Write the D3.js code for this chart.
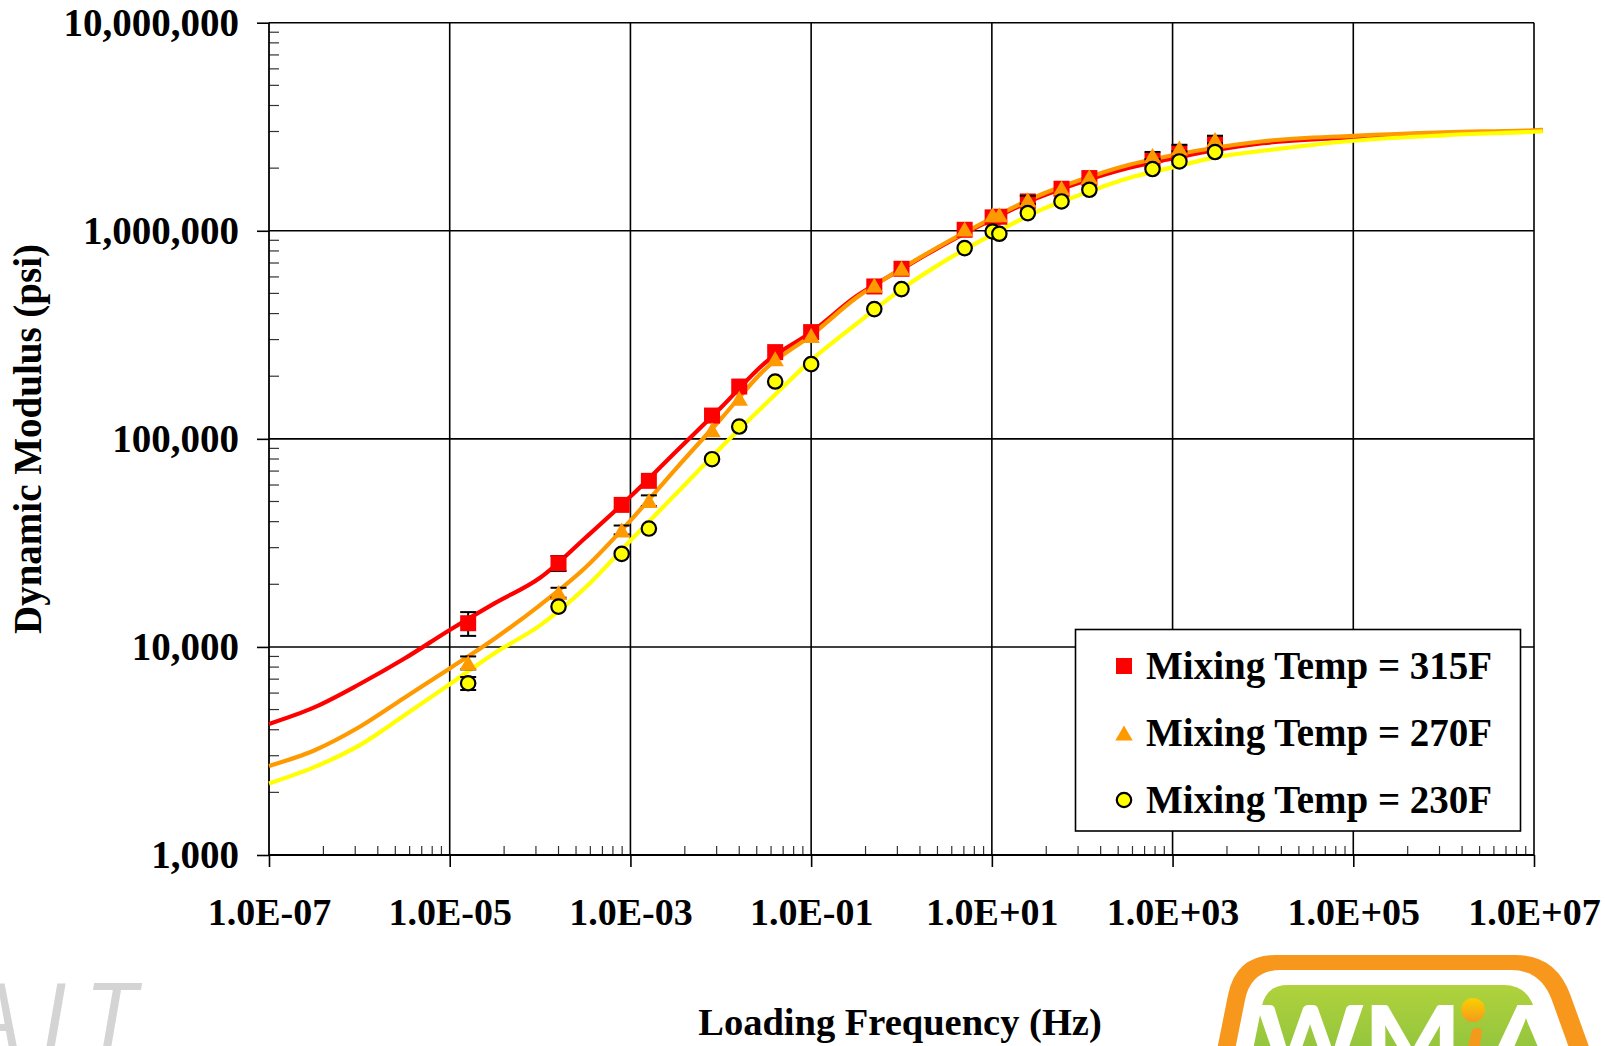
<!DOCTYPE html>
<html><head><meta charset="utf-8">
<script src="https://cdn.jsdelivr.net/npm/d3@7"></script>
<style>
html,body{margin:0;padding:0;background:#fff;overflow:hidden;}
svg{display:block;}
</style></head><body>
<svg id="chart" width="1605" height="1046"></svg>
<script>
// ---------- data ----------
const xTickValues = [1e-7, 1e-5, 1e-3, 1e-1, 1e1, 1e3, 1e5, 1e7];
const xTickLabels = ["1.0E-07","1.0E-05","1.0E-03","1.0E-01","1.0E+01","1.0E+03","1.0E+05","1.0E+07"];
const yTickValues = [1e3, 1e4, 1e5, 1e6, 1e7];
const yTickLabels = ["1,000","10,000","100,000","1,000,000","10,000,000"];

const seriesNames = ["Mixing Temp = 315F","Mixing Temp = 270F","Mixing Temp = 230F"];

// measured points (reduced frequency, Hz)
const testFreq = [1.6e-5,1.6e-4,8.0e-4,1.6e-3,8.0e-3,1.6e-2,4.0e-2,0.1,0.5,1.0,5.0,10.2,12.1,25,59,120,600,1190,2950];
const mod315 = [13000,25260,48160,62840,129400,178400,261100,325800,540000,656700,1011000,1160000,1168000,1383000,1592000,1792000,2178000,2371000,2620000];
const mod270 = [8400,18240,36520,50500,110500,156900,242400,313800,548000,660000,1019000,1194000,1194000,1409000,1604000,1818000,2301000,2498000,2748000];
const mod230 = [6690,15620,28000,37050,79850,114600,188600,228600,420400,524400,825500,992000,967400,1216000,1383000,1574000,1980000,2154000,2390000];
const err315 = [1700,2100,0,0,0,0,0,0,0,0,0,0,0,0,0,0,0,0,0];
const err270 = [600,1000,1800,3000,0,0,0,0,0,0,0,0,0,64000,0,0,91000,92000,115000];
const err230 = [480,0,0,0,0,0,0,0,0,0,0,0,0,0,0,0,0,0,0];

// fitted master curves
const curveFreq = [1e-7,3.16e-7,1e-6,3.16e-6,1e-5,3.16e-5,1e-4,3.16e-4,1e-3,3.16e-3,1e-2,3.16e-2,0.1,0.316,1,3.16,10,31.6,100,316,1000,3160,1e4,1e5,1e6,1e7,1.25e7];
const fit315 = [4264,5119,6617,8796,12060,16230,21490,33390,52800,86500,141000,233800,325100,484300,653800,872900,1132000,1435000,1722000,2000000,2224000,2452000,2634000,2814000,2942000,3025000,3040000];
const fit270 = [2679,3180,4120,5700,7883,10980,15890,24010,40480,71580,124600,218000,314500,476300,658100,880600,1148000,1465000,1768000,2065000,2307000,2520000,2694000,2861000,2975000,3042000,3055000];
const fit230 = [2207,2643,3365,4695,6617,9359,12690,19240,32440,54170,90620,147700,238500,356400,523800,724600,957000,1237000,1500000,1784000,2017000,2266000,2424000,2709000,2877000,2992000,3005000];

const colors = ["#ff0000","#ff9900","#ffff00"];

// ---------- layout ----------
const svg = d3.select("#chart");
const X0 = 269, X1 = 1534, Y0 = 855, Y1 = 22.7;
const x = d3.scaleLog().domain([1e-7, 1e7]).range([X0, X1]);
const y = d3.scaleLog().domain([1e3, 1e7]).range([Y0, Y1]);
const FONT = "'Liberation Serif','Times New Roman',serif";

svg.append("rect").attr("width",1605).attr("height",1046).attr("fill","#fff");

// gridlines
const grid = svg.append("g").attr("stroke","#000").attr("stroke-width",1.6);
yTickValues.slice(1).forEach(v => grid.append("line")
  .attr("x1",X0).attr("x2",X1).attr("y1",y(v)).attr("y2",y(v)));
xTickValues.slice(1).forEach(v => grid.append("line")
  .attr("x1",x(v)).attr("x2",x(v)).attr("y1",Y1).attr("y2",Y0));

// minor ticks
const minor = svg.append("g").attr("stroke","#333").attr("stroke-width",1.2);
[1e3,1e4,1e5,1e6].forEach(d => { for (let k=2;k<=9;k++) {
  minor.append("line").attr("x1",X0).attr("x2",X0+10).attr("y1",y(d*k)).attr("y2",y(d*k));
}});
xTickValues.slice(0,-1).forEach(d => { for (let k=2;k<=9;k++) {
  const v = d*k*k;
  minor.append("line").attr("x1",x(v)).attr("x2",x(v)).attr("y1",Y0).attr("y2",Y0-9);
}});

// axes
const yAxis = d3.axisLeft(y).tickValues(yTickValues)
  .tickFormat((d,i)=>yTickLabels[i]).tickSize(12).tickPadding(18);
const gy = svg.append("g").attr("transform",`translate(${X0},0)`).call(yAxis);
const xAxis = d3.axisBottom(x).tickValues(xTickValues)
  .tickFormat((d,i)=>xTickLabels[i]).tickSize(12).tickPadding(31);
const gx = svg.append("g").attr("transform",`translate(0,${Y0})`).call(xAxis);
[gx, gy].forEach(g => {
  g.select(".domain").remove();
  g.selectAll(".tick line").attr("stroke","#000").attr("stroke-width",1.6);
  g.selectAll("text").attr("font-family",FONT).attr("font-weight","bold")
    .attr("font-size",38).attr("fill","#000");
});
gy.selectAll("text").attr("font-size",39);
svg.append("line").attr("x1",X0).attr("x2",X0).attr("y1",Y1).attr("y2",Y0)
  .attr("stroke","#000").attr("stroke-width",1.8);
svg.append("line").attr("x1",X0).attr("x2",X1).attr("y1",Y0).attr("y2",Y0)
  .attr("stroke","#000").attr("stroke-width",1.8);

// axis titles
svg.append("text").attr("x",900).attr("y",1035).attr("text-anchor","middle")
  .attr("font-family",FONT).attr("font-weight","bold").attr("font-size",38.5)
  .text("Loading Frequency (Hz)");
svg.append("text").attr("transform","translate(41,439) rotate(-90)").attr("text-anchor","middle")
  .attr("font-family",FONT).attr("font-weight","bold").attr("font-size",39)
  .text("Dynamic Modulus (psi)");

// curves
const fits = [fit315, fit270, fit230];
const line = d3.line().x(d=>x(d[0])).y(d=>y(d[1])).curve(d3.curveMonotoneX);
fits.forEach((f,i) => {
  svg.append("path").datum(curveFreq.map((c,j)=>[c,f[j]]))
    .attr("d",line).attr("fill","none").attr("stroke",colors[i])
    .attr("stroke-width",4.2).attr("stroke-linejoin","round");
});

// markers
const mods = [mod315, mod270, mod230];
const errs = [err315, err270, err230];
function drawMarker(g, type, cx, cy) {
  if (type===0) g.append("rect").attr("x",cx-8).attr("y",cy-8).attr("width",16).attr("height",16).attr("fill",colors[0]);
  else if (type===1) g.append("path").attr("d",`M${cx},${cy-7.5}L${cx+8.7},${cy+7.5}L${cx-8.7},${cy+7.5}Z`).attr("fill",colors[1]);
  else g.append("circle").attr("cx",cx).attr("cy",cy).attr("r",7.2).attr("fill",colors[2]).attr("stroke","#000").attr("stroke-width",2.2);
}
mods.forEach((m,i) => {
  const g = svg.append("g");
  testFreq.forEach((f,j) => {
    const e = errs[i][j];
    if (e>0) {
      const cx = x(f), ya = y(m[j]+e), yb = y(m[j]-e);
      g.append("line").attr("x1",cx).attr("x2",cx).attr("y1",ya).attr("y2",yb).attr("stroke","#000").attr("stroke-width",2);
      [ya,yb].forEach(yy => g.append("line").attr("x1",cx-8).attr("x2",cx+8).attr("y1",yy).attr("y2",yy).attr("stroke","#000").attr("stroke-width",2));
    }
  });
  testFreq.forEach((f,j) => drawMarker(g, i, x(f), y(m[j])));
});

// legend
const lg = svg.append("g");
lg.append("rect").attr("x",1075.5).attr("y",629.5).attr("width",445).attr("height",201.5)
  .attr("fill","#fff").attr("stroke","#000").attr("stroke-width",1.6);
seriesNames.forEach((n,i) => {
  const cy = 666 + i*67;
  drawMarker(lg, i, 1124, cy);
  lg.append("text").attr("x",1146).attr("y",cy+12.5).attr("font-family",FONT)
    .attr("font-weight","bold").attr("font-size",39).text(n);
});

// watermark text (bottom left)
svg.append("text").attr("x",-34).attr("y",1048).attr("font-family","Roboto, 'Open Sans', sans-serif")
  .attr("font-style","italic").attr("font-weight",400).attr("font-size",90)
  .attr("letter-spacing",20).attr("fill","#d4d4d4").text("AIT");

// logo (bottom right)
const logo = svg.append("g");
function trap(d, r) {
  const top = 955 + d, bot = 1080;
  const tl = 1236 + d, tr = 1556 - d;
  const sl = -0.2, sr = 0.36;
  const blx = tl + sl*(bot-top), brx = tr + sr*(bot-top);
  return `M${blx},${bot}L${tl+sl*r},${top+r}Q${tl},${top} ${tl+r},${top}` +
         `L${tr-r},${top}Q${tr},${top} ${tr+sr*r},${top+r}L${brx},${bot}Z`;
}
const defs = svg.append("defs");
const gg = defs.append("linearGradient").attr("id","grn").attr("x1",0).attr("y1",0).attr("x2",0).attr("y2",1);
gg.append("stop").attr("offset","0").attr("stop-color","#b0d23c");
gg.append("stop").attr("offset","1").attr("stop-color","#86bf3e");
const og = defs.append("linearGradient").attr("id","dot").attr("x1",0).attr("y1",0).attr("x2",0).attr("y2",1);
og.append("stop").attr("offset","0").attr("stop-color","#f9d000");
og.append("stop").attr("offset","1").attr("stop-color","#f39a1c");
logo.append("path").attr("d",trap(0,40)).attr("fill","#f7981d");
logo.append("path").attr("d",trap(15,30)).attr("fill","#fff");
logo.append("path").attr("d",trap(30,22)).attr("fill","url(#grn)");
logo.append("text").attr("x",1256).attr("y",1072).attr("font-family","Lato, 'Open Sans', sans-serif")
  .attr("font-weight",900).attr("font-size",92).attr("fill","#fff")
  .attr("textLength",205).attr("lengthAdjust","spacingAndGlyphs").text("WM");
logo.append("text").attr("x",1487).attr("y",1072).attr("font-family","Lato, 'Open Sans', sans-serif")
  .attr("font-weight",900).attr("font-size",92).attr("fill","#fff")
  .attr("textLength",78).attr("lengthAdjust","spacingAndGlyphs").text("A");
logo.append("circle").attr("cx",1473).attr("cy",1010).attr("r",12).attr("fill","url(#dot)");
logo.append("path").attr("d","M1468,1046 L1472,1030 Q1478,1026 1482,1030 L1480,1046 Z").attr("fill","#f39a1c");
</script>
</body></html>
